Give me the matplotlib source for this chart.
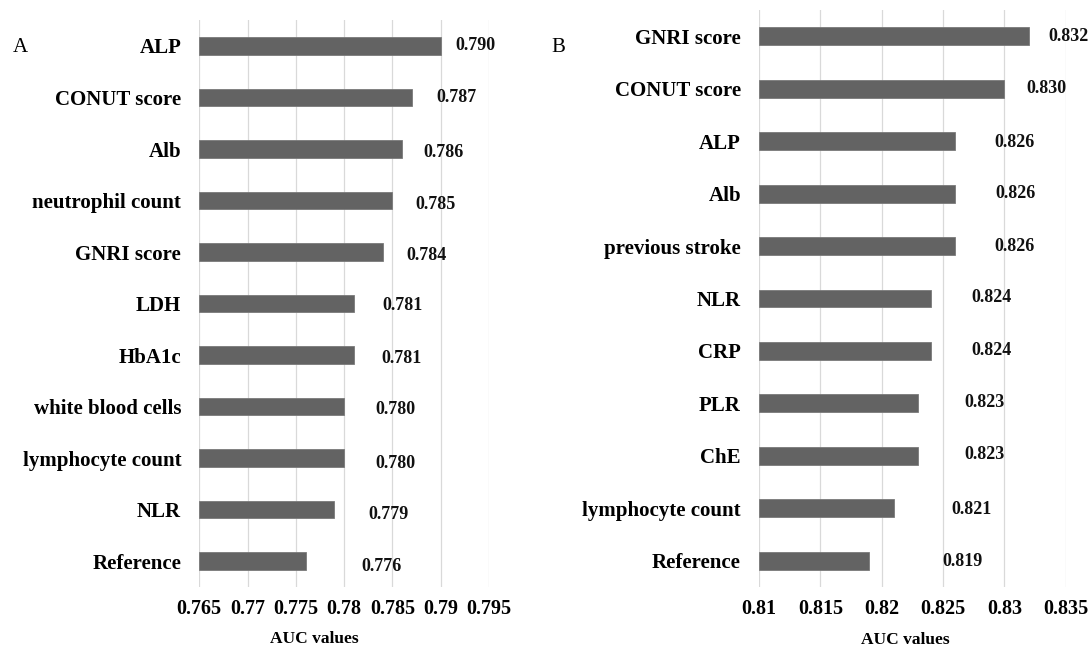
import matplotlib
matplotlib.use("Agg")
import matplotlib.pyplot as plt
import numpy as np

plt.rcParams['font.family'] = ['Liberation Serif', 'DejaVu Serif']

# ---- data (top to bottom as shown) ----
cats_a = ["ALP", "CONUT score", "Alb", "neutrophil count", "GNRI score", "LDH",
          "HbA1c", "white blood cells", "lymphocyte count", "NLR", "Reference"]
auc_a = [0.790, 0.787, 0.786, 0.785, 0.784, 0.781, 0.781, 0.780, 0.780, 0.779, 0.776]
ticks_a = [0.765, 0.77, 0.775, 0.78, 0.785, 0.79, 0.795]
tlabels_a = ["0.765", "0.77", "0.775", "0.78", "0.785", "0.79", "0.795"]

cats_b = ["GNRI score", "CONUT score", "ALP", "Alb", "previous stroke", "NLR", "CRP",
          "PLR", "ChE", "lymphocyte count", "Reference"]
auc_b = [0.832, 0.830, 0.826, 0.826, 0.826, 0.824, 0.824, 0.823, 0.823, 0.821, 0.819]
ticks_b = [0.81, 0.815, 0.82, 0.825, 0.83, 0.835]
tlabels_b = ["0.81", "0.815", "0.82", "0.825", "0.83", "0.835"]

# label placement offsets (pixels) - style only
dx_a = [15, 25, 21, 23, 24, 29, 28, 31, 31, 34, 56]
dy_a = [0, 0, 3.5, 3.5, 3.5, 2, 3.5, 3, 5, 4.5, 5]
dx_b = [19, 22, 39, 40, 39, 41, 41, 46, 46, 57, 73]
dy_b = [0, 0, 1, 0, 0, -1, 0, -1, -1, 1, 1]

W, H = 1091, 646
fig = plt.figure(figsize=(W / 100, H / 100), dpi=100)
bar_color = '#636363'
grid_color = '#d9d9d9'
px = 0.72  # points per pixel at 100 dpi


def panel(rect, cats, vals, ticks, tlabels, xlim, dx, dy):
    ax = fig.add_axes(rect)
    n = len(cats)
    y = np.arange(n)
    ax.barh(y, [v - xlim[0] for v in vals], left=xlim[0], height=0.34,
            color=bar_color, edgecolor='#7a7a7a', linewidth=0.6, zorder=3)
    ax.set_ylim(n - 0.5, -0.5)
    ax.set_xlim(*xlim)
    ax.set_yticks(y)
    ax.set_yticklabels(cats, fontsize=15, fontweight='bold')
    ax.set_xticks(ticks)
    ax.set_xticklabels(tlabels, fontsize=14.5, fontweight='bold')
    ax.tick_params(axis='y', length=0, pad=13)
    ax.tick_params(axis='x', length=0, pad=9)
    for s in ax.spines.values():
        s.set_visible(False)
    ax.xaxis.grid(True, color=grid_color, linewidth=0.9, zorder=0)
    ax.set_axisbelow(True)
    for i, v in enumerate(vals):
        ax.annotate(f"{v:.3f}", xy=(v, i), xytext=(dx[i] * px, -dy[i] * px),
                    textcoords='offset points', ha='left', va='center',
                    fontsize=13, fontweight='bold', color='#111111')
    return ax


# left panel: x 199.3 -> 489, y 20.2 -> 587
ax_a = panel([199.3 / W, 1 - 587 / H, (489 - 199.3) / W, (587 - 20.2) / H],
             cats_a, auc_a, ticks_a, tlabels_a, (0.765, 0.795), dx_a, dy_a)
# right panel: x 759 -> 1065.7, y 10 -> 587
ax_b = panel([759 / W, 1 - 587 / H, (1065.7 - 759) / W, (587 - 10) / H],
             cats_b, auc_b, ticks_b, tlabels_b, (0.81, 0.835), dx_b, dy_b)

fig.text(314 / W, 1 - 639 / H, "AUC values", ha='center', va='center',
         fontsize=12.5, fontweight='bold')
fig.text(905 / W, 1 - 640 / H, "AUC values", ha='center', va='center',
         fontsize=12.5, fontweight='bold')
fig.text(20 / W, 1 - 47 / H, "A", ha='center', va='center', fontsize=15)
fig.text(558 / W, 1 - 48 / H, "B", ha='center', va='center', fontsize=15)

fig.savefig("out.png", dpi=100, facecolor='white')
